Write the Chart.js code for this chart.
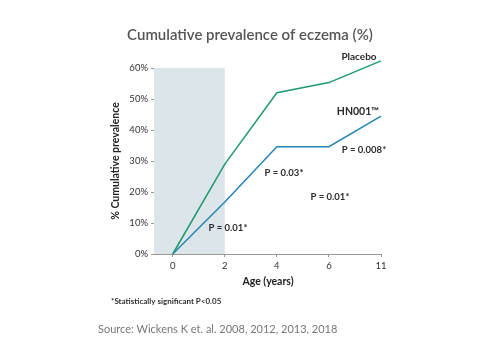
<!DOCTYPE html>
<html>
<head>
<meta charset="utf-8">
<script src="https://cdn.jsdelivr.net/npm/chart.js@4"></script>
<style>
  html, body { margin: 0; padding: 0; background: #fff; }
  #wrap { position: relative; width: 500px; height: 350px; }
</style>
</head>
<body>
<div id="wrap"><canvas id="c" width="500" height="350"></canvas></div>
<script>
const ageLabels = ['0', '2', '4', '6', '11'];
const placebo = [0, 29, 52, 55.3, 62.3];
const hn001 = [0, 16.8, 34.6, 34.6, 44.5];
const yTicks = [0, 10, 20, 30, 40, 50, 60];
const shadeRange = [-0.36, 1]; // category-index range of shaded region (from axis to age 2)
const shadeTop = 60;

const annotations = [
  { text: 'Placebo', x: 359, y: 57, size: 10 },
  { text: 'HN001™', x: 358, y: 112, size: 10.5 },
  { text: 'P = 0.008*', x: 364, y: 150, size: 9.5 },
  { text: 'P = 0.03*', x: 284, y: 173, size: 9.5 },
  { text: 'P = 0.01*', x: 330, y: 197, size: 9.5 },
  { text: 'P = 0.01*', x: 228, y: 228, size: 9.5 }
];

const FONT = 'Lato, "Open Sans", sans-serif';

const shadePlugin = {
  id: 'shade',
  beforeDatasetsDraw(chart) {
    const { ctx, scales: { x, y } } = chart;
    const x0 = x.getPixelForValue(shadeRange[0]);
    const x1 = x.getPixelForValue(shadeRange[1]);
    const y0 = y.getPixelForValue(0);
    const y1 = y.getPixelForValue(shadeTop);
    ctx.save();
    ctx.fillStyle = '#dbe5ea';
    ctx.fillRect(x0, y1, x1 - x0, y0 - y1);
    ctx.restore();
  }
};

const textPlugin = {
  id: 'texts',
  afterDraw(chart) {
    const ctx = chart.ctx;
    ctx.save();
    ctx.textBaseline = 'middle';
    ctx.textAlign = 'center';
    ctx.fillStyle = '#555';
    ctx.font = '600 15px ' + FONT;
    ctx.fillText('Cumulative prevalence of eczema (%)', 250, 35);
    ctx.fillStyle = '#2b2b2b';
    annotations.forEach(a => {
      ctx.font = 'bold ' + a.size + 'px ' + FONT;
      ctx.fillText(a.text, a.x, a.y);
    });
    ctx.fillStyle = '#222';
    ctx.font = 'bold 10.5px ' + FONT;
    ctx.fillText('Age (years)', 268, 282);
    ctx.save();
    ctx.translate(116, 161);
    ctx.rotate(-Math.PI / 2);
    ctx.fillText('% Cumulative prevalence', 0, 0);
    ctx.restore();
    ctx.textAlign = 'left';
    ctx.fillStyle = '#333';
    ctx.font = 'bold 8px ' + FONT;
    ctx.fillText('*Statistically significant P<0.05', 111, 301);
    ctx.fillStyle = '#777';
    ctx.font = '11px ' + FONT;
    ctx.fillText('Source: Wickens K et. al. 2008, 2012, 2013, 2018', 98, 329);
    ctx.restore();
  }
};

new Chart(document.getElementById('c'), {
  type: 'line',
  data: {
    datasets: [
      {
        label: 'Placebo',
        data: placebo.map((v, i) => ({ x: i, y: v })),
        borderColor: '#1f9a6d',
        borderWidth: 1.5,
        pointRadius: 0,
        fill: false,
        tension: 0,
        clip: false
      },
      {
        label: 'HN001',
        data: hn001.map((v, i) => ({ x: i, y: v })),
        borderColor: '#2585b6',
        borderWidth: 1.5,
        pointRadius: 0,
        fill: false,
        tension: 0,
        clip: false
      }
    ]
  },
  options: {
    responsive: false,
    animation: false,
    layout: { padding: { left: 0, right: 119, top: 68, bottom: 0 } },
    plugins: { legend: { display: false }, tooltip: { enabled: false }, title: { display: false } },
    scales: {
      x: {
        type: 'linear',
        min: shadeRange[0],
        max: ageLabels.length - 1,
        afterBuildTicks(s) { s.ticks = ageLabels.map((_, i) => ({ value: i })); },
        afterFit(s) { s.height = 96; },
        grid: { drawOnChartArea: false, drawTicks: true, tickLength: 3, color: '#999' },
        border: { display: true, color: '#999', width: 1 },
        ticks: {
          color: '#333',
          font: { family: FONT, size: 9.5 },
          padding: 3,
          callback: (v) => ageLabels[v] !== undefined ? ageLabels[v] : ''
        }
      },
      y: {
        min: 0,
        max: 60,
        afterBuildTicks(s) { s.ticks = yTicks.map(v => ({ value: v })); },
        afterFit(s) { s.width = 154; },
        grid: { drawOnChartArea: false, drawTicks: true, tickLength: 3, color: '#999' },
        border: { display: true, color: '#999', width: 1 },
        ticks: {
          color: '#333',
          font: { family: FONT, size: 9.5 },
          padding: 3,
          callback: (v) => v + '%'
        }
      }
    }
  },
  plugins: [shadePlugin, textPlugin]
});
</script>
</body>
</html>
